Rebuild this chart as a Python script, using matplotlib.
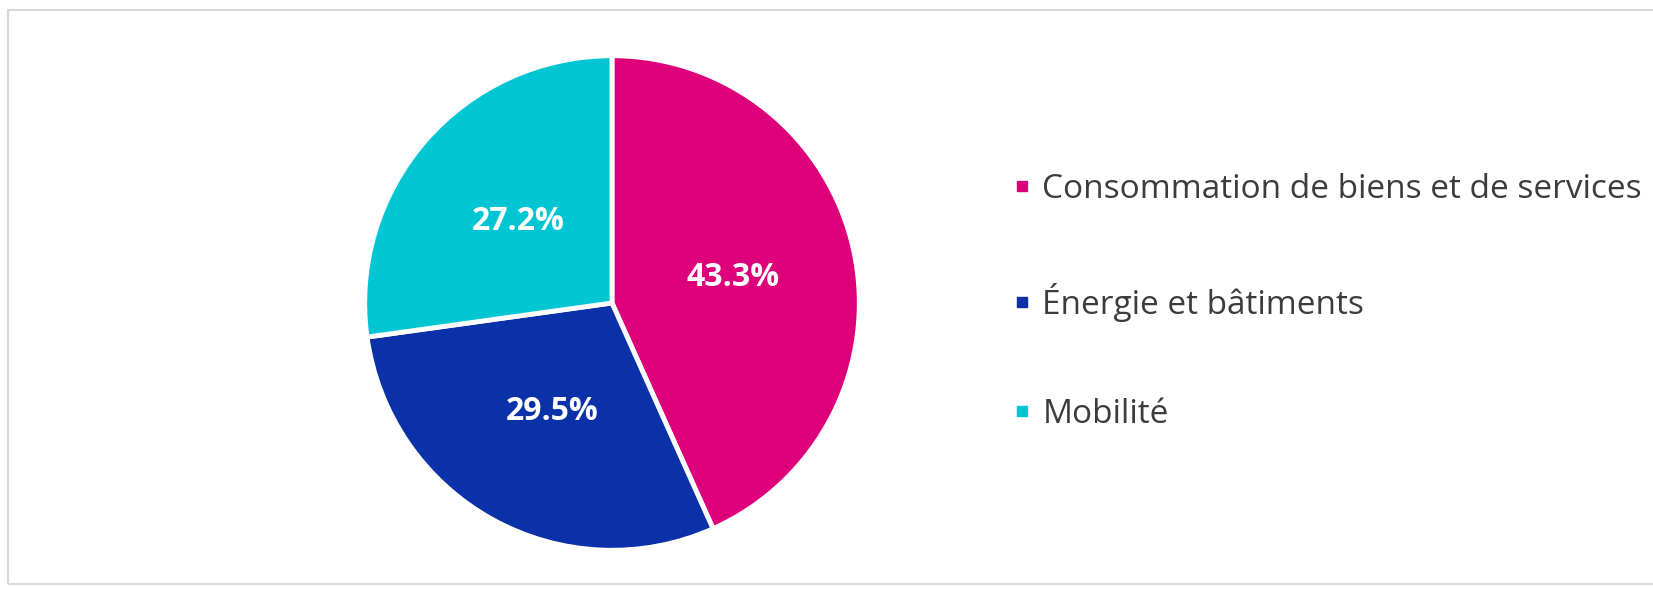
import matplotlib
matplotlib.use("Agg")
import matplotlib.pyplot as plt
from matplotlib.lines import Line2D
from matplotlib.patches import Rectangle

categories = ["Consommation de biens et de services", "Énergie et bâtiments", "Mobilité"]
values = [43.3, 29.5, 27.2]
colors = ["#DE007A", "#0B31A8", "#00C6D3"]

W, H = 1653, 590
fig = plt.figure(figsize=(W / 100, H / 100), dpi=100)
fig.patch.set_facecolor("white")

# light frame
fig.add_artist(Rectangle((8 / W, 6 / H), (W + 20) / W, (H - 16) / H,
                         transform=fig.transFigure, fill=False,
                         edgecolor="#d8d8d8", linewidth=1.5))

cx, cy, r = 612, 303, 251
ax = fig.add_axes([(cx - r) / W, (H - cy - r) / H, 2 * r / W, 2 * r / H])
wedges, texts, autotexts = ax.pie(values, colors=colors, startangle=90, counterclock=False,
                                  autopct="%.1f%%", pctdistance=0.5,
                                  wedgeprops=dict(edgecolor="white", linewidth=3.5))
for t in autotexts:
    t.set_color("white")
    t.set_fontsize(23)
    t.set_fontweight("bold")
    t.set_family("Open Sans")
ax.set_xlim(-1.015, 1.015)
ax.set_ylim(-1.015, 1.015)
ax.set_aspect("equal")
ax.axis("off")

handles = [Line2D([0], [0], marker="s", linestyle="none", markersize=7,
                  markerfacecolor=c, markeredgecolor=c) for c in colors]
fig.legend(handles, categories, loc="center left",
           bbox_to_anchor=(999 / W, 1 - 302 / H), frameon=False,
           prop={"family": "Open Sans", "size": 24}, labelcolor="#3c3c3c",
           handlelength=0.55, handletextpad=0.35, labelspacing=2.3, borderaxespad=0)

fig.savefig("out.png", dpi=100, facecolor="white")
